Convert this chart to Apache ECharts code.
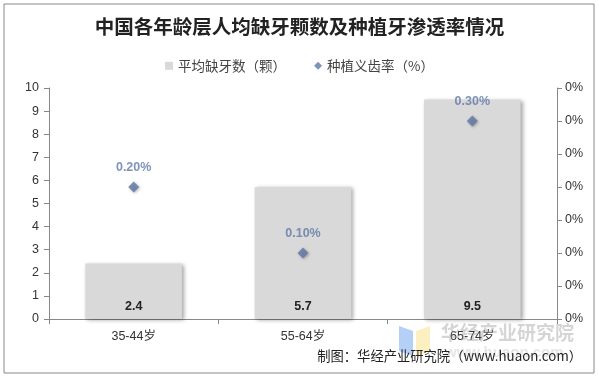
<!DOCTYPE html>
<html><head><meta charset="utf-8">
<script src="https://cdn.jsdelivr.net/npm/echarts@6/dist/echarts.min.js"></script>
<style>html,body{margin:0;padding:0;background:#fff}#c{width:599px;height:379px}</style>
</head><body><div id="c"></div>
<script>
const categories = ['35-44岁', '55-64岁', '65-74岁'];
const missingTeeth = [2.4, 5.7, 9.5];
const implantRate = [0.2, 0.1, 0.3];
const leftTicks = [0, 1, 2, 3, 4, 5, 6, 7, 8, 9, 10];
const titleText = '中国各年龄层人均缺牙颗数及种植牙渗透率情况';
const seriesNames = ['平均缺牙数（颗）', '种植义齿率（%）'];
const footerText = '制图：华经产业研究院（www.huaon.com）';

const chart = echarts.init(document.getElementById('c'), null, {renderer: 'canvas'});
const font = '"Liberation Sans","Noto Sans CJK SC",sans-serif';
chart.setOption({
  animation: false,
  backgroundColor: '#fff',
  title: {text: titleText, left: 'center', top: 12,
    textStyle: {fontSize: 19.5, fontWeight: 'bold', color: '#222', fontFamily: '"Noto Sans CJK SC",serif'}},
  legend: {top: 54, left: 'center', itemGap: 28, itemWidth: 8, itemHeight: 8,
    textStyle: {fontSize: 13.5, color: '#444', fontFamily: '"Noto Sans CJK SC",sans-serif'},
    data: [{name: seriesNames[0], icon: 'rect'}, {name: seriesNames[1], icon: 'diamond'}]},
  grid: {left: 49, right: 42, top: 88, bottom: 60},
  xAxis: {type: 'category', data: categories,
    axisLine: {lineStyle: {color: '#888'}},
    axisTick: {show: true, length: 5, lineStyle: {color: '#888'}},
    axisLabel: {color: '#333', fontSize: 12.5, margin: 11, fontFamily: font}},
  yAxis: [
    {type: 'value', min: 0, max: 10, interval: 1, position: 'left',
      axisLine: {show: true, lineStyle: {color: '#888'}},
      axisTick: {show: true, length: 5, lineStyle: {color: '#888'}},
      splitLine: {show: false},
      axisLabel: {color: '#333', fontSize: 12.5, margin: 10, fontFamily: font}},
    {type: 'value', min: 0, max: 0.35, interval: 0.05, position: 'right',
      axisLine: {show: true, lineStyle: {color: '#888'}},
      axisTick: {show: true, length: 5, lineStyle: {color: '#888'}},
      splitLine: {show: false},
      axisLabel: {color: '#333', fontSize: 12.5, margin: 8, fontFamily: font,
        formatter: v => Math.round(v) + '%'}}
  ],
  series: [
    {name: seriesNames[0], type: 'bar', data: missingTeeth, barWidth: '57%', yAxisIndex: 0,
      itemStyle: {color: '#d9d9d9', shadowColor: 'rgba(0,0,0,0.35)', shadowBlur: 4, shadowOffsetX: 2, shadowOffsetY: 1},
      label: {show: true, position: 'insideBottom', distance: 6, color: '#222', fontWeight: 'bold', fontSize: 12.5, fontFamily: font}},
    {name: seriesNames[1], type: 'scatter', data: implantRate, yAxisIndex: 1, symbol: 'diamond', symbolSize: 11,
      itemStyle: {color: '#5f77a5', shadowColor: 'rgba(0,0,0,0.35)', shadowBlur: 3, shadowOffsetX: 1, shadowOffsetY: 1},
      label: {show: true, position: 'top', distance: 8, color: '#5f77a5', fontWeight: 'bold', fontSize: 12.5, fontFamily: font,
        formatter: p => p.value.toFixed(2) + '%'}}
  ],
  graphic: [
    {type: 'rect', shape: {x: 4, y: 4, width: 590, height: 369}, style: {fill: 'none', stroke: '#888', lineWidth: 1}, z: 100},
    {type: 'polygon', shape: {points: [[399,326],[413,331],[413,356],[399,351]]}, style: {fill: 'rgba(120,170,240,0.55)'}, z: 50},
    {type: 'polygon', shape: {points: [[416,331],[430,326],[430,351],[416,356]]}, style: {fill: 'rgba(250,225,140,0.55)'}, z: 50},
    {type: 'text', left: 441, top: 323, style: {text: '华经产业研究院', font: 'bold 19px "Noto Sans CJK SC"', fill: 'rgba(150,150,150,0.4)'}, z: 50},
    {type: 'text', left: 445, top: 345, style: {text: 'www.huaon.com', font: 'bold 15px sans-serif', fill: 'rgba(170,170,170,0.3)'}, z: 50},
    {type: 'text', right: 17, top: 349, style: {text: footerText, font: '13.3px "Noto Sans CJK SC"', fill: '#222'}, z: 60}
  ]
});
</script></body></html>
